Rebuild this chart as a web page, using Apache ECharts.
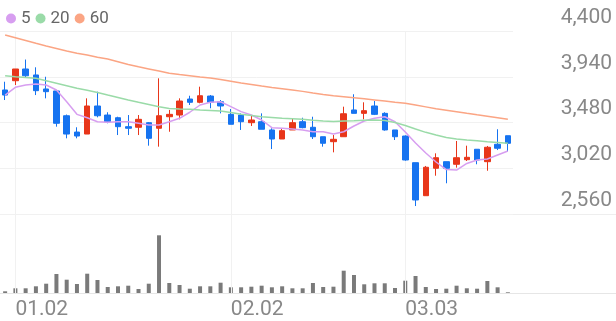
<!DOCTYPE html>
<html>
<head>
<meta charset="utf-8">
<script src="https://cdn.jsdelivr.net/npm/echarts@6/dist/echarts.min.js"></script>
<style>
html,body{margin:0;padding:0;background:#fff;}
#c{width:616px;height:321px;}
</style>
</head>
<body>
<div id="c"></div>
<script>
const categories = ['12.30','01.02','01.05','01.06','01.07','01.08','01.09','01.12','01.13','01.14','01.15','01.16','01.19','01.20','01.21','01.22','01.23','01.26','01.27','01.28','01.29','01.30','02.02','02.03','02.04','02.05','02.06','02.09','02.10','02.11','02.12','02.13','02.19','02.20','02.23','02.24','02.25','02.26','02.27','03.03','03.04','03.05','03.06','03.09','03.10','03.11','03.12','03.13','03.16','03.17'];
const openV  = [3807,3900,4018,3958,3817,3797,3548,3384,3364,3646,3555,3528,3438,3432,3478,3422,3538,3555,3716,3683,3746,3689,3562,3555,3478,3488,3405,3314,3405,3488,3432,3337,3287,3337,3606,3572,3646,3572,3405,3344,3076,2744,3020,3086,3060,3106,3211,3086,3261,3347];
const closeV = [3756,4018,3950,3800,3790,3472,3364,3344,3646,3548,3488,3438,3422,3512,3321,3548,3562,3696,3683,3749,3683,3646,3462,3488,3505,3412,3314,3398,3478,3428,3337,3271,3311,3568,3572,3599,3562,3405,3337,3103,2701,3030,3126,3020,3126,3130,3103,3231,3221,3271];
const lowV   = [3706,3857,3937,3756,3723,3438,3321,3321,3364,3532,3472,3354,3354,3354,3247,3237,3387,3512,3656,3673,3623,3572,3462,3405,3445,3412,3213,3314,3405,3422,3314,3237,3180,3337,3572,3512,3555,3398,3304,3096,2640,2744,2945,2869,3026,3093,3060,2995,3203,3186];
const highV  = [3890,4018,4113,4035,3940,3807,3560,3432,3723,3790,3583,3538,3555,3555,3485,3924,3606,3723,3749,3840,3756,3706,3616,3572,3555,3572,3422,3422,3522,3528,3538,3337,3354,3639,3764,3683,3696,3583,3405,3350,3076,3043,3170,3086,3294,3247,3211,3244,3412,3347];
const ma5  = [3756,3834,3857,3867,3857,3807,3689,3562,3528,3488,3482,3488,3488,3472,3455,3455,3488,3522,3583,3656,3683,3689,3639,3589,3555,3505,3428,3422,3415,3405,3387,3387,3364,3387,3445,3495,3522,3538,3488,3384,3274,3173,3083,3007,3002,3068,3103,3113,3153,3193];
const ma20 = [3951,3940,3932,3924,3899,3874,3849,3824,3804,3782,3756,3731,3706,3683,3661,3639,3621,3616,3613,3606,3601,3596,3580,3562,3550,3538,3530,3522,3517,3512,3503,3495,3490,3495,3498,3502,3505,3500,3480,3450,3415,3381,3354,3329,3314,3304,3296,3287,3279,3271];
const ma60 = [4360,4332,4304,4276,4250,4225,4199,4177,4158,4136,4118,4091,4063,4040,4019,3998,3976,3963,3951,3938,3927,3912,3895,3877,3863,3847,3832,3819,3806,3793,3777,3762,3748,3738,3728,3718,3707,3696,3684,3673,3655,3637,3618,3603,3588,3572,3557,3543,3528,3512];
const volumes = [17,47,47,67,93,190,133,90,193,130,60,67,73,40,93,577,100,80,43,67,67,103,57,57,63,73,57,67,47,47,100,60,63,223,180,87,97,97,50,123,170,60,40,43,73,47,43,120,57,7];
const yTicks = [2560,3020,3480,3940,4400];
const xTickLabels = ['01.02','02.02','03.03'];

const UP = '#e8361a', DOWN = '#1673f0';
const candleData = categories.map((_, i) => [openV[i], closeV[i], lowV[i], highV[i]]);
const vLines = xTickLabels.map(d => ({ xAxis: d }));
const vLineStyle = { color: '#f1f1f1', width: 1, type: 'solid' };

const chart = echarts.init(document.getElementById('c'), null, { renderer: 'canvas' });
chart.setOption({
  animation: false,
  backgroundColor: '#fff',
  textStyle: { fontFamily: 'Roboto' },
  legend: {
    data: ['5', '20', '60'],
    left: 1, top: 5,
    icon: 'circle', itemWidth: 10, itemHeight: 10, itemGap: 5,
    textStyle: { color: '#666', fontSize: 17, fontFamily: 'Roboto' },
    selectedMode: false
  },
  grid: [
    { left: 0, right: 103, top: 31, height: 183 },
    { left: 0, right: 103, top: 214, bottom: 28 }
  ],
  xAxis: [
    { type: 'category', gridIndex: 0, data: categories, boundaryGap: true,
      axisLine: { show: false }, axisTick: { show: false }, axisLabel: { show: false }, splitLine: { show: false } },
    { type: 'category', gridIndex: 1, data: categories, boundaryGap: true,
      axisLine: { show: false }, axisTick: { show: false }, splitLine: { show: false },
      axisLabel: { show: true, interval: (i, v) => xTickLabels.includes(v), align: 'left', margin: 6,
        color: '#888', fontSize: 21, fontFamily: 'Roboto' } }
  ],
  yAxis: [
    { type: 'value', gridIndex: 0, position: 'right', min: yTicks[0], max: yTicks[yTicks.length - 1], interval: yTicks[1] - yTicks[0],
      axisLine: { show: false }, axisTick: { show: false },
      splitLine: { show: true, lineStyle: { color: '#f1f1f1', width: 1 } },
      axisLabel: { show: true, margin: 99, align: 'right', verticalAlign: 'bottom', padding: [0, 0, 3, 0],
        color: '#888', fontSize: 21, fontFamily: 'Roboto', formatter: v => v.toLocaleString('en-US') } },
    { type: 'value', gridIndex: 1, min: 0, max: 790, show: false, splitLine: { show: false } }
  ],
  graphic: [
    { type: 'line', shape: { x1: 0, y1: 214.5, x2: 616, y2: 214.5 }, style: { stroke: '#eeeeee', lineWidth: 1 }, silent: true, z: 0 },
    { type: 'line', shape: { x1: 0, y1: 293.5, x2: 616, y2: 293.5 }, style: { stroke: '#e6e6e6', lineWidth: 1 }, silent: true, z: 0 }
  ],
  series: [
    { type: 'candlestick', name: 'price', xAxisIndex: 0, yAxisIndex: 0, data: candleData, barWidth: 6,
      itemStyle: { color: UP, color0: DOWN, borderColor: UP, borderColor0: DOWN, borderWidth: 1 },
      markLine: { silent: true, symbol: ['none', 'none'], label: { show: false }, lineStyle: vLineStyle, data: vLines, z: 0 },
      z: 3 },
    { type: 'line', name: '5', xAxisIndex: 0, yAxisIndex: 0, data: ma5, showSymbol: false, symbol: 'none',
      lineStyle: { color: '#d79ef0', width: 1.5 }, itemStyle: { color: '#d79ef0' }, z: 4 },
    { type: 'line', name: '20', xAxisIndex: 0, yAxisIndex: 0, data: ma20, showSymbol: false, symbol: 'none',
      lineStyle: { color: '#9adba8', width: 1.5 }, itemStyle: { color: '#9adba8' }, z: 4 },
    { type: 'line', name: '60', xAxisIndex: 0, yAxisIndex: 0, data: ma60, showSymbol: false, symbol: 'none',
      lineStyle: { color: '#fba584', width: 1.5 }, itemStyle: { color: '#fba584' }, z: 4 },
    { type: 'bar', name: 'volume', xAxisIndex: 1, yAxisIndex: 1, data: volumes, barWidth: 4,
      itemStyle: { color: '#7a7a7a' },
      markLine: { silent: true, symbol: ['none', 'none'], label: { show: false }, lineStyle: vLineStyle, data: vLines } }
  ]
});
</script>
</body>
</html>
